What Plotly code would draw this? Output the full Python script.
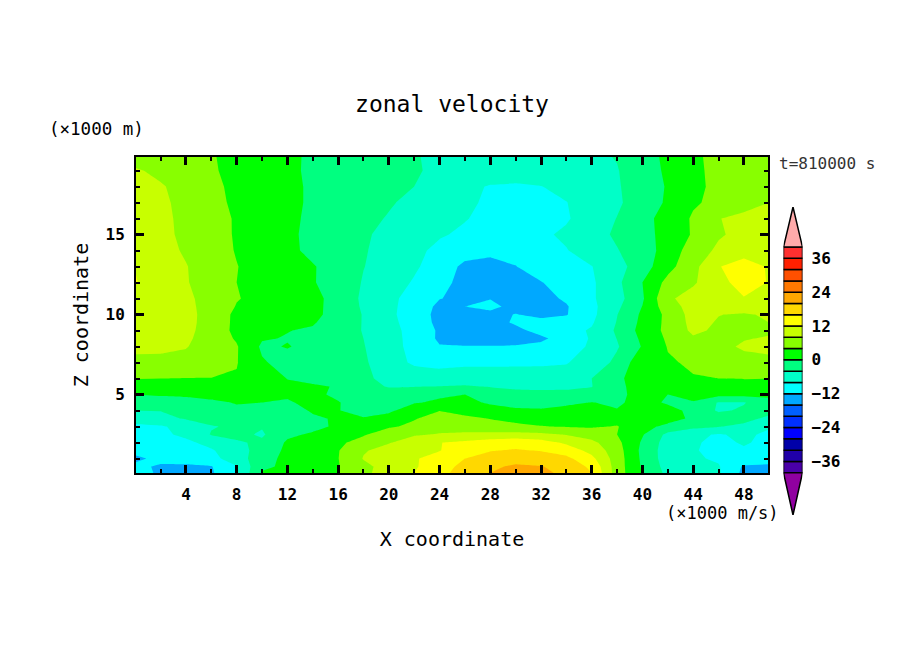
import plotly.graph_objects as go

W, H = 904, 654
FONT = "DejaVu Sans Mono"

x_coord = [0, 2, 4, 6, 8, 10, 12, 14, 16, 18, 20, 22, 24, 26, 28, 30, 32, 34, 36, 38, 40, 42, 44, 46, 48, 50]
z_coord = [0.1, 0.5, 1, 1.5, 2, 2.5, 3, 3.5, 4, 4.5, 5, 5.5, 6, 7, 8, 8.5, 9, 9.5, 10, 10.5, 11, 12, 13, 14, 15, 16, 17, 18, 19, 19.9]

zonal_velocity = [
    [-9, -13.2, -13.5, -12.5, -8.2, 0.2, 1, 2.7, 4, 7, 10, 12, 15, 17.5, 20, 21.5, 21, 19, 16, 6, -0.2, -5, -7, -7.5, -13, -13.5],
    [-11, -12.6, -12.8, -12.2, -8.2, -0.5, 0.5, 2.2, 3.8, 7, 9.5, 11.5, 14.5, 17, 19.3, 20.6, 20.2, 18.5, 15.2, 6, -0.5, -5.5, -7.5, -7.7, -12.5, -13],
    [-13, -10.7, -10, -9.2, -6, -1.5, 1, 2.5, 3.9, 8.2, 10.5, 11.5, 14, 16, 17.8, 18.6, 18, 17, 13, 6, -0.8, -6, -7.5, -8.5, -9.5, -9.5],
    [-10.5, -10.5, -10, -8.5, -5, -3, 1, 2, 3.8, 7.7, 9.2, 10.5, 11.8, 14.8, 15.8, 16.4, 15.8, 14.2, 10.8, 5.7, -1, -6, -7.8, -8.7, -8.5, -9.5],
    [-10, -9.5, -9, -6.5, -4.5, -3.3, 0.5, 1.5, 3, 6, 7.8, 9.5, 11.9, 12.8, 14, 14.5, 13.6, 11.3, 9, 5, -0.5, -5.8, -7.5, -9, -7.6, -9],
    [-9.5, -9, -7, -3.8, -3, -4.5, -0.7, 0.5, 1.5, 3.5, 6.8, 7.7, 8.2, 8.8, 9.2, 9.5, 9, 7.8, 6.2, 4, 0.3, -5, -7, -8.4, -7, -9],
    [-9, -8.5, -6.5, -4.2, -3.5, -3.7, -2.6, -1, 0.6, 1.5, 3.4, 5, 7, 6, 5.3, 4.4, 4.1, 3.8, 3.6, 4.2, 1.5, -1.2, -3, -3.8, -5, -7.5],
    [-6, -5, -3.7, -3, -2.5, -2.5, -2.2, -0.7, 0.5, 0.2, 1.8, 3.7, 5.7, 4.6, 3.9, 3.5, 3, 2.9, 2.8, 2.7, 1.8, 1.8, -0.8, -2, -2.6, -5],
    [-4, -3.9, -3.5, -2, -0.3, -1, -2, 0.5, 0.1, -1, -0.9, 2.7, 3.9, 3, 1.8, 0.7, 0.5, 1.1, 1.3, 0.2, 1.6, 1.3, -1, -4.5, -3.5, -2.5],
    [-2, -1.5, -1.2, -0.3, 0.1, 0, -0.4, 1, 0.2, -1.8, -1.8, -0.3, 0.6, 1.2, -0.6, -1.5, -1.6, -0.7, 0.1, -0.6, 1.4, -0.5, -0.2, -4.3, -4.2, -2],
    [0, 0.3, 0.5, 0.5, 1, 1.1, 0.5, 0.8, -0.7, -3.5, -2.5, -1.2, -0.6, 0, -1.2, -2.2, -2.6, -2.7, -2.6, -1, 1.5, 0, 1, 1.2, 1, 1.3],
    [1, 2, 2.2, 2.2, 2.2, 1.7, 0.7, 0.8, -0.4, -3, -4.2, -4.1, -3.9, -3.6, -4.2, -5, -5.1, -4.9, -4.1, -1.1, 2, 2.8, 2.5, 2.8, 2.6, 3],
    [4.2, 4, 3.9, 3.9, 3.7, 2.4, -0.1, -1.7, -3.1, -3.3, -5, -5.3, -5.6, -5.8, -6, -6.2, -6.3, -6.4, -4, -1, 2.6, 3.4, 3.8, 4, 4.1, 4],
    [7, 7, 6.8, 6, 4.2, 0.4, -1.3, -2.2, -3, -3.5, -6, -8.7, -9.5, -8.8, -8.7, -8.6, -8.5, -8.2, -6.5, -3, 2.8, 3.6, 4.5, 5.8, 6.7, 7],
    [8.9, 8.8, 8.2, 6.3, 4.3, -0.6, 0.2, -1, -2, -3.8, -6.7, -9, -11.8, -11.9, -11.9, -11.8, -11.2, -9.5, -7.5, -4.4, 0.3, 4.2, 5.7, 7, 8.5, 9],
    [9.2, 9.2, 8.6, 6.4, 3.6, 0.3, -0.2, -0.7, -2, -4, -6.6, -9.2, -12.6, -13, -13, -13, -12.6, -10.5, -7.6, -3.9, 0.8, 4.6, 7.5, 7.2, 7.8, 8.3],
    [9.5, 9.5, 8.9, 6.5, 3, 1.5, 0.1, -0.4, -2, -4.2, -6.5, -9.5, -12.5, -13.2, -13, -12.8, -11, -9.3, -7.6, -3.4, 1.4, 5, 8.8, 7.3, 7, 7.5],
    [9.8, 9.6, 8.9, 6.8, 3, 1.9, 0.9, 0.3, -1.7, -4.2, -6.9, -9.7, -13, -13.3, -13.2, -11.6, -11, -10.5, -8.4, -3.8, 1, 5, 9.2, 7.7, 7.3, 8],
    [10, 9.7, 8.8, 7, 3, 2.2, 1.6, 1, -1.5, -4.2, -7.2, -9.8, -13.2, -13, -12.8, -11.9, -12.8, -12.2, -9, -4.1, 0.7, 5, 9.5, 8.1, 7.6, 8.5],
    [10.4, 9.9, 8.8, 6.8, 3.8, 2.6, 1.8, 1, -1.4, -4.5, -7.1, -9.7, -12.8, -12, -11.2, -13, -13.2, -12.3, -9, -4.8, 0.1, 6.3, 9.5, 9.3, 9.8, 9.5],
    [10.8, 10, 8.8, 6.5, 4.2, 3, 2, 1, -1.3, -4.7, -7, -9.5, -11.9, -12.7, -12.1, -12.8, -13.2, -11.5, -8.5, -5.5, -0.5, 7.4, 9.5, 10.5, 11.8, 10.5],
    [12.2, 10.2, 8.3, 6, 4, 2.8, 1.6, 0.2, -1.3, -4.3, -6, -8.4, -11, -13, -13.5, -13, -12.2, -10, -8.6, -4.9, 0, 5.2, 7.5, 10.8, 13.5, 11.8],
    [11.9, 10, 8.2, 5.8, 4.1, 2.7, 1.2, 0.3, -1.8, -3.9, -5.6, -7.4, -10, -12.8, -13, -12.1, -10, -9, -8.1, -5.5, -1.8, 2.7, 6.8, 11.8, 13.8, 11.6],
    [11.5, 9.5, 7.5, 5.5, 3.8, 2.6, 1, -1, -2.3, -3.7, -5.3, -7, -9, -10.5, -11.3, -10.8, -9.3, -8.2, -6, -4.2, -1.8, 1.5, 6, 8.7, 10.2, 11],
    [11, 9, 7.2, 5.3, 3.7, 2.2, 0.8, -1, -2.2, -3.5, -5, -6.2, -7.6, -8.7, -9.5, -9.5, -8.7, -7.3, -5.5, -3.4, -1.2, 1.2, 4.4, 7.6, 9, 9.8],
    [10.5, 9, 7, 5.2, 3.7, 2.3, 0.9, -0.8, -1.9, -2.9, -4.3, -5.4, -6.5, -7.8, -9, -9.7, -9.5, -8.4, -6, -3.9, -1, 1.2, 4.5, 7.9, 8.8, 9.3],
    [10, 8.8, 6.8, 4.8, 3.5, 2.2, 1, -0.6, -1.7, -2.7, -3.6, -5, -6, -7.2, -8.7, -9.2, -9, -8.1, -6, -4.6, -2, 0.5, 3.5, 5, 6.8, 8],
    [9.5, 8.4, 6.5, 4.7, 3.3, 2.3, 1, -0.6, -1.6, -2.5, -3.3, -4, -4.8, -7, -8.3, -8.6, -8.1, -6.8, -5.5, -4.5, -1.3, 0.2, 3, 5, 6.5, 7.5],
    [8.5, 7, 6, 4.4, 3, 2.2, 0.8, -0.7, -1.5, -2.2, -3, -3.6, -4.8, -5.3, -5.6, -5.7, -5.6, -5.4, -5, -4.2, -1.7, 0.6, 3.2, 5, 6.5, 8.2],
    [6, 6, 6, 4.3, 2.8, 2, 1, -0.8, -1.5, -2.2, -3, -3.8, -4.6, -5.2, -5.5, -5.5, -5.5, -5.3, -4.7, -3.8, -1.5, 0.8, 3.5, 4.8, 5.5, 5.8],
]

contour_levels = [-40, -36, -32, -28, -24, -20, -16, -12, -8, -4, 0, 4, 8, 12, 16, 20, 24, 28, 32, 36, 40]
band_colors = ["#4a00a8", "#2000a8", "#0000a8", "#0000ff", "#0030ff", "#0060ff", "#00a8ff", "#00ffff", "#00ffc8", "#00ff80",
               "#00ff00", "#88ff00", "#c8ff00", "#ffff00", "#ffd800", "#ffa800", "#ff7800", "#ff5000", "#ff2000", "#ff3030"]
low_cap_color = "#9000a0"
high_cap_color = "#ffaaaa"
cap_tip = [-55, 54.2]
colorbar_ticks = [-36, -24, -12, 0, 12, 24, 36]
colorbar_labels = ["\u221236", "\u221224", "\u221212", "0", "12", "24", "36"]
x_ticks = [4, 8, 12, 16, 20, 24, 28, 32, 36, 40, 44, 48]
z_ticks = [5, 10, 15]

n = len(band_colors)
stepped = []
for i, c in enumerate(band_colors):
    stepped += [[i / n, c], [(i + 1) / n, c]]

fig = go.Figure()
fig.add_trace(go.Contour(
    x=x_coord, y=z_coord, z=zonal_velocity, colorscale=stepped, zmin=contour_levels[0], zmax=contour_levels[-1],
    contours=dict(start=contour_levels[0], end=contour_levels[-1], size=4, coloring="fill", showlines=False),
    line=dict(width=0, smoothing=0), showscale=False, hoverinfo="skip", xaxis="x", yaxis="y",
))
fig.add_trace(go.Bar(
    x=[0.5] * n, y=[4] * n, base=contour_levels[:-1], width=1, marker=dict(color=band_colors, line=dict(color="black", width=1.5)),
    xaxis="x2", yaxis="y2", hoverinfo="skip", showlegend=False,
))
for base, tip, color in [(contour_levels[0], cap_tip[0], low_cap_color), (contour_levels[-1], cap_tip[1], high_cap_color)]:
    fig.add_trace(go.Scatter(
        x=[0, 0.5, 1, 0], y=[base, tip, base, base], mode="lines", fill="toself", fillcolor=color,
        line=dict(color="black", width=1.5), xaxis="x2", yaxis="y2", hoverinfo="skip", showlegend=False,
    ))


def px_x(p):
    return p / W


def px_y(p):
    return 1 - p / H


tick_font = dict(family=FONT, size=16, color="black", weight="bold")
axis_common = dict(showgrid=False, zeroline=False, showline=True, linecolor="black", linewidth=2, mirror="ticks",
                   ticks="inside", tickcolor="black", tickwidth=2.5, ticklen=8, tickfont=tick_font)
fig.update_layout(
    width=W, height=H, margin=dict(l=0, r=0, t=0, b=0), paper_bgcolor="white", plot_bgcolor="white",
    showlegend=False, barmode="overlay",
    title=dict(text="zonal velocity", x=452 / W, xanchor="center", y=px_y(104), yanchor="middle",
               font=dict(family=FONT, size=23, color="black")),
    xaxis=dict(domain=[px_x(136), px_x(768)], range=[0.06, 49.9], tickvals=x_ticks, ticktext=[str(v) for v in x_ticks],
               minor=dict(dtick=2, tick0=0, ticks="inside", ticklen=4, tickwidth=1.5, tickcolor="black"),
               title=dict(text="X coordinate", font=dict(family=FONT, size=20, color="black"), standoff=29),
               ticklabelstandoff=6, anchor="y", **axis_common),
    yaxis=dict(domain=[px_y(473), px_y(157)], range=[0.1, 19.85], tickvals=z_ticks, ticktext=[str(v) for v in z_ticks],
               minor=dict(dtick=1, tick0=0, ticks="inside", ticklen=4, tickwidth=1.5, tickcolor="black"),
               title=dict(text="Z coordinate", font=dict(family=FONT, size=20, color="black"), standoff=12),
               ticklabelstandoff=6, anchor="x", **axis_common),
    xaxis2=dict(domain=[px_x(783.5), px_x(802.5)], range=[0, 1], visible=False, anchor="y2"),
    yaxis2=dict(domain=[px_y(515), px_y(207)], range=cap_tip, side="right", anchor="x2", showgrid=False, zeroline=False, showline=False,
                tickvals=colorbar_ticks, ticktext=colorbar_labels, ticks="", ticklabelstandoff=8, tickfont=tick_font),
    annotations=[
        dict(text="(\u00d71000 m)", x=px_x(96), y=px_y(129), xref="paper", yref="paper", showarrow=False,
             xanchor="center", yanchor="middle", font=dict(family=FONT, size=17.5, color="black")),
        dict(text="(\u00d71000 m/s)", x=px_x(722), y=px_y(513), xref="paper", yref="paper", showarrow=False,
             xanchor="center", yanchor="middle", font=dict(family=FONT, size=17, color="black")),
        dict(text="t=810000 s", x=px_x(827), y=px_y(163), xref="paper", yref="paper", showarrow=False,
             xanchor="center", yanchor="middle", font=dict(family=FONT, size=16, color="#333333")),
    ],
)
fig.write_html("out.html", post_script="document.body.style.margin='0';", config=dict(displayModeBar=False))
